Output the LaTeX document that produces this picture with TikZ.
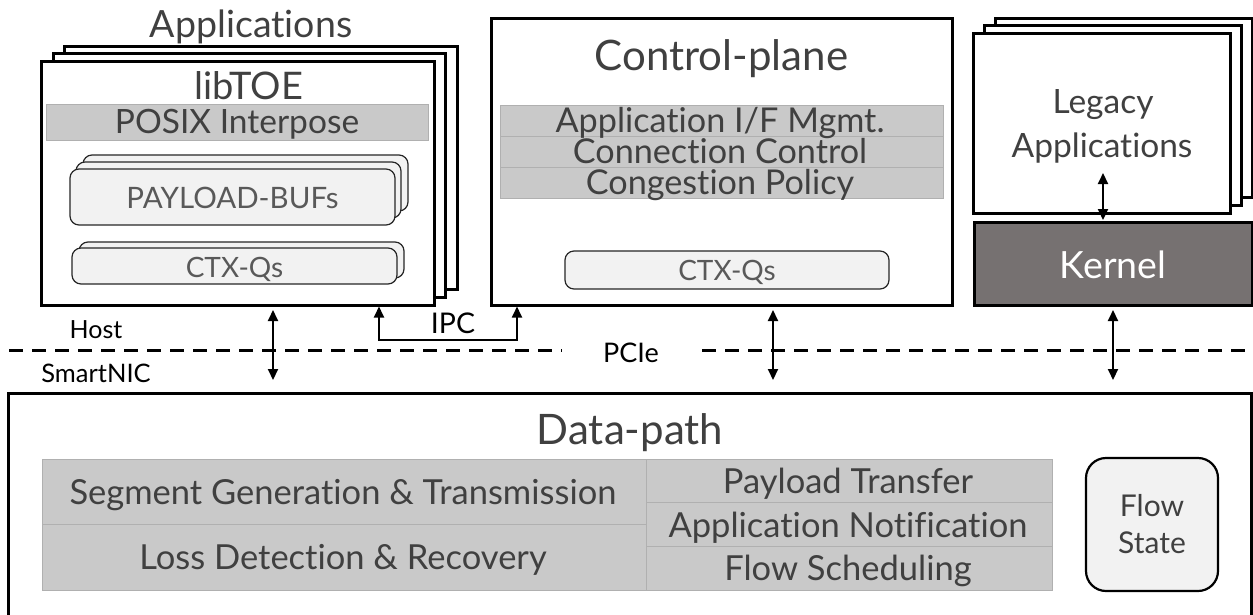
\documentclass[tikz,border=0pt]{standalone}
\usepackage{fontspec}
\setmainfont{Lato}[Ligatures=NoCommon]
\usetikzlibrary{arrows.meta,calc}
\definecolor{txt}{HTML}{404040}
\definecolor{soft}{HTML}{595959}
\definecolor{band}{HTML}{C9C9C9}
\definecolor{bandline}{HTML}{B0B0B0}
\definecolor{pale}{HTML}{F2F2F2}
\definecolor{kern}{HTML}{767171}
\newcommand{\fsz}[1]{\fontsize{#1pt}{#1pt}\selectfont}
\begin{document}
\begin{tikzpicture}[x=1pt,y=-1pt,
  rect/.style 2 args={minimum width=#1pt, minimum height=#2pt},
  frame/.style={draw=black, line width=3pt, fill=white, inner sep=0pt, outer sep=0pt},
  bandbox/.style={draw=bandline, line width=1pt, fill=band, inner sep=0pt, outer sep=0pt},
  softbox/.style={draw=black!85, line width=1.2pt, fill=pale, rounded corners=9pt, inner sep=0pt, outer sep=0pt},
  lbl/.style={anchor=base, inner sep=0pt, text=txt},
  dbl/.style={{Triangle[length=11pt,width=10pt]}-{Triangle[length=11pt,width=10pt]}, line width=2pt},
  sepline/.style={line width=3pt, dash pattern=on 14pt off 9pt},
]
\clip (0,0) rectangle (1253,614);

% ---------- application stack with libTOE ----------
\node[frame, rect={393}{243}] (appC) at (260.5,167.5) {};
\node[frame, rect={392}{244}] (appB) at (249,175) {};
\node[frame, rect={393}{244}] (app) at (237.5,183) {};
\node[lbl, font=\fsz{37.5}] (apptitle) at (251,37) {Applications};
\node[lbl, font=\fsz{38}] (libtoe) at (249,99) {libTOE};
\node[bandbox, rect={382}{36}] (posix) at (237,122) {};
\node[lbl, font=\fsz{33.5}] (posixlbl) at (237,133) {POSIX Interpose};

\node[softbox, rect={325}{56}] (bufC) at (245.5,183) {};
\node[softbox, rect={325}{56}] (bufB) at (238.5,190) {};
\node[softbox, rect={325}{56}] (buf) at (232.5,197) {};
\node[lbl, text=soft, font=\fsz{29.5}] (buflbl) at (232.5,208) {PAYLOAD-BUFs};

\node[softbox, rect={325}{36}] (ctxB) at (241.5,260) {};
\node[softbox, rect={325}{36}] (ctx) at (234.5,266) {};
\node[lbl, text=soft, font=\fsz{28}] (ctxlbl) at (234.5,277) {CTX-Qs};

% ---------- control plane ----------
\node[frame, rect={461}{287}] (cp) at (721.5,161.5) {};
\node[lbl, font=\fsz{42}] (cptitle) at (721.5,70) {Control-plane};
\node[bandbox, rect={443}{31}] (cpA) at (721.5,120.5) {};
\node[bandbox, rect={443}{31}] (cpB) at (721.5,151.5) {};
\node[bandbox, rect={443}{31}] (cpC) at (721.5,182.5) {};
\node[lbl, font=\fsz{34.2}] (cpAl) at (720,132) {Application I/F Mgmt.};
\node[lbl, font=\fsz{34.2}] (cpBl) at (720,163) {Connection Control};
\node[lbl, font=\fsz{34.2}] (cpCl) at (720,194) {Congestion Policy};
\node[softbox, rect={324}{38}] (cpctx) at (727,270) {};
\node[lbl, text=soft, font=\fsz{28}] (cpctxlbl) at (727,280) {CTX-Qs};

% ---------- legacy applications and kernel ----------
\node[frame, rect={257}{179}] (legC) at (1123.5,107.5) {};
\node[frame, rect={257}{180}] (legB) at (1112.5,115) {};
\node[frame, rect={257}{180}] (leg) at (1101.5,123) {};
\node[lbl, font=\fsz{33.5}] (legl1) at (1103,113) {Legacy};
\node[lbl, font=\fsz{33.5}] (legl2) at (1102,157) {Applications};
\node[frame, fill=kern, rect={278}{83}] (kernel) at (1113,263.5) {};
\node[lbl, text=white, font=\fsz{37.5}] (kernellbl) at (1113,278) {Kernel};

% ---------- host / SmartNIC boundary ----------
\coordinate (dl1) at (9,350);
\coordinate (dl2) at (562,350);
\coordinate (dr1) at (702,350);
\coordinate (dr2) at (1256,350);
\draw[sepline] (dl1) -- (dl2);
\draw[sepline] (dr1) -- (dr2);
\node[lbl, text=black, font=\fsz{25}] (host) at (96,338) {Host};
\node[lbl, text=black, font=\fsz{25.5}] (nic) at (96,382) {SmartNIC};
\node[lbl, text=black, font=\fsz{27}] (pcie) at (631,362) {PCIe};

% ---------- data path ----------
\node[frame, rect={1243}{257}] (dp) at (629.5,521.5) {};
\node[lbl, font=\fsz{42}] (dptitle) at (630,444) {Data-path};
\node[bandbox, rect={604}{65.5}] (segA) at (344,491.75) {};
\node[bandbox, rect={604}{65.5}] (segB) at (344,557.25) {};
\node[bandbox, rect={406}{43.67}] (rowA) at (849,480.83) {};
\node[bandbox, rect={406}{43.67}] (rowB) at (849,524.5) {};
\node[bandbox, rect={406}{43.67}] (rowC) at (849,568.17) {};
\node[lbl, font=\fsz{34.5}] (segAl) at (343,504) {Segment Generation \& Transmission};
\node[lbl, font=\fsz{34.5}] (segBl) at (343,569) {Loss Detection \& Recovery};
\node[lbl, font=\fsz{34.5}] (rowAl) at (848,493) {Payload Transfer};
\node[lbl, font=\fsz{34.5}] (rowBl) at (848,537) {Application Notification};
\node[lbl, font=\fsz{34.5}] (rowCl) at (848,580) {Flow Scheduling};
\node[softbox, draw=black, line width=2.2pt, rounded corners=20pt, rect={132}{133}] (flow) at (1152,524.5) {};
\node[lbl, font=\fsz{30}] (flowl1) at (1152,516) {Flow};
\node[lbl, font=\fsz{30}] (flowl2) at (1152,553) {State};

% ---------- connectors ----------
\coordinate (xa) at (273,0);
\coordinate (xb) at (773,0);
\coordinate (xk) at (1113,0);
\draw[dbl, shorten <=5pt, shorten >=13pt] (app.south -| xa) -- (dp.north -| xa);
\draw[dbl, shorten <=5pt, shorten >=13pt] (cp.south -| xb) -- (dp.north -| xb);
\draw[dbl, shorten <=5pt, shorten >=13pt] (kernel.south -| xk) -- (dp.north -| xk);
\coordinate (legtip) at (1103,173);
\draw[dbl, shorten >=2pt] (legtip) -- (kernel.north -| legtip);
\coordinate (ipcL) at (379,340);
\coordinate (ipcR) at (517,340);
\draw[dbl, line width=1.8pt, shorten <=1.5pt, shorten >=1.5pt]
  (app.south -| ipcL) -- (ipcL) -- (ipcR) -- (cp.south -| ipcR);
\node[lbl, text=black, font=\fsz{28.5}] (ipc) at (453,333) {IPC};
\end{tikzpicture}
\end{document}
